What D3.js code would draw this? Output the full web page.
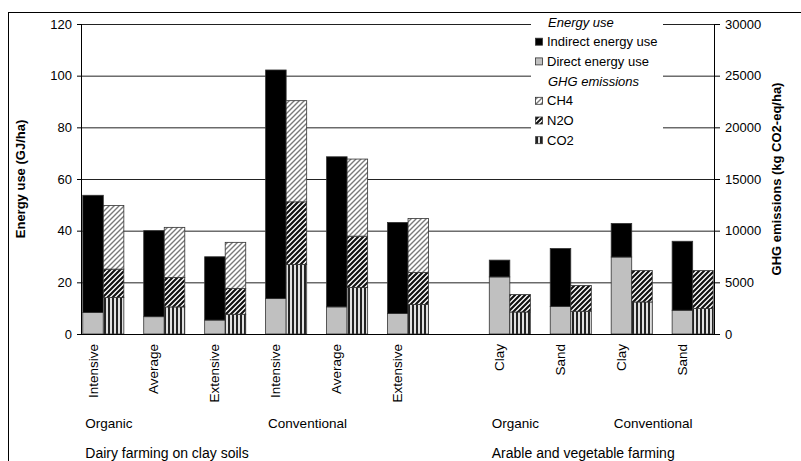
<!DOCTYPE html>
<html>
<head>
<meta charset="utf-8">
<script src="https://cdn.jsdelivr.net/npm/d3@7"></script>
<style>
  body { margin: 0; background: #fff; }
  svg, svg text { font-family: "Liberation Sans", Arial, sans-serif; }
</style>
</head>
<body>
<svg id="chart" width="801" height="461"></svg>
<script>
// bar categories (10 systems, two farm types)
const categories = ["Intensive", "Average", "Extensive", "Intensive", "Average", "Extensive", "Clay", "Sand", "Clay", "Sand"];
const farmType = ["dairy", "dairy", "dairy", "dairy", "dairy", "dairy", "arable", "arable", "arable", "arable"];

// energy use (GJ/ha)
const directEnergy = [8.3, 6.7, 5.4, 13.7, 10.5, 7.9, 22.1, 10.7, 29.8, 9.2];
const indirectEnergy = [45.4, 33.3, 24.5, 88.5, 58.1, 35.3, 6.5, 22.4, 13.0, 26.7];

// GHG emissions (kg CO2-eq/ha)
const co2 = [3525, 2620, 1910, 6725, 4500, 2850, 2130, 2200, 3100, 2460];
const n2o = [2755, 2850, 2490, 6065, 4970, 3100, 1690, 2490, 3040, 3680];
const ch4 = [6150, 4850, 4470, 9790, 7460, 5230, 0, 0, 0, 0];

// axis ticks
const energyTicks = [0, 20, 40, 60, 80, 100, 120];
const ghgTicks = [0, 5000, 10000, 15000, 20000, 25000, 30000];

// labels under the categories
const systemLabels = [
  { text: "Organic", first: 0 },
  { text: "Conventional", first: 3 },
  { text: "Organic", first: 6 },
  { text: "Conventional", first: 8 }
];
const farmLabels = [
  { text: "Dairy farming on clay soils", first: 0 },
  { text: "Arable and vegetable farming", first: 6 }
];

const svg = d3.select("#chart");
const plotLeft = 81, plotRight = 714, plotTop = 24, plotBottom = 334;

// outer frame
svg.append("rect")
  .attr("x", 8.5).attr("y", 12.5)
  .attr("width", 820).attr("height", 480)
  .attr("fill", "none").attr("stroke", "#000");

// patterns for the GHG parts
const defs = svg.append("defs");
defs.append("pattern")
  .attr("id", "ch4").attr("patternUnits", "userSpaceOnUse")
  .attr("width", 5).attr("height", 5)
  .call(p => {
    p.append("rect").attr("width", 5).attr("height", 5).attr("fill", "#fff");
    p.append("path").attr("d", "M-1,6 L6,-1 M-1,1 L1,-1 M4,6 L6,4")
      .attr("stroke", "#7a7a7a").attr("stroke-width", 1.4);
  });
defs.append("pattern")
  .attr("id", "n2o").attr("patternUnits", "userSpaceOnUse")
  .attr("width", 5).attr("height", 5)
  .call(p => {
    p.append("rect").attr("width", 5).attr("height", 5).attr("fill", "#fff");
    p.append("path").attr("d", "M-1,6 L6,-1 M-1,1 L1,-1 M4,6 L6,4")
      .attr("stroke", "#111").attr("stroke-width", 2.2);
  });
defs.append("pattern")
  .attr("id", "co2").attr("patternUnits", "userSpaceOnUse")
  .attr("width", 4).attr("height", 4)
  .call(p => {
    p.append("rect").attr("width", 4).attr("height", 4).attr("fill", "#e0e0e0");
    p.append("rect").attr("x", 0).attr("width", 2).attr("height", 4).attr("fill", "#222");
  });

// scales
const gapSlots = 0.67; // extra space between the two farm types
const slot = i => i + (farmType[i] === "arable" ? gapSlots : 0);
const x = d3.scaleLinear().domain([-0.366, 10.02]).range([plotLeft, plotRight]);
const bw = (x(1) - x(0)) * 0.337;
const yE = d3.scaleLinear().domain([0, 120]).range([plotBottom, plotTop]);
const yG = d3.scaleLinear().domain([0, 30000]).range([plotBottom, plotTop]);

// gridlines
svg.append("g")
  .attr("transform", `translate(${plotLeft},0)`)
  .call(d3.axisLeft(yE).tickValues(energyTicks).tickSize(-(plotRight - plotLeft)).tickFormat(""))
  .call(g => g.select(".domain").remove())
  .call(g => g.selectAll("line").attr("stroke", "#222"));

// legend background hides the gridlines
svg.append("rect")
  .attr("x", 531).attr("y", 14).attr("width", 132).attr("height", 134)
  .attr("fill", "#fff");

// energy bars
const energyData = categories.map((c, i) => ({ i, direct: directEnergy[i], indirect: indirectEnergy[i] }));
const gE = svg.append("g");
gE.selectAll(".direct").data(energyData).enter().append("rect")
  .attr("x", d => x(slot(d.i)) - bw).attr("width", bw)
  .attr("y", d => yE(d.direct)).attr("height", d => yE(0) - yE(d.direct))
  .attr("fill", "#c0c0c0").attr("stroke", "#333").attr("stroke-width", 0.8);
gE.selectAll(".indirect").data(energyData).enter().append("rect")
  .attr("x", d => x(slot(d.i)) - bw).attr("width", bw)
  .attr("y", d => yE(d.direct + d.indirect)).attr("height", d => yE(d.direct) - yE(d.direct + d.indirect))
  .attr("fill", "#000").attr("stroke", "#333").attr("stroke-width", 0.8);

// GHG bars
const ghgData = categories.map((c, i) => ({ i, co2: co2[i], n2o: n2o[i], ch4: ch4[i] }));
const stack = d3.stack().keys(["co2", "n2o", "ch4"])(ghgData);
const gG = svg.append("g");
stack.forEach(layer => {
  gG.selectAll(null).data(layer.filter(d => d[1] > d[0])).enter().append("rect")
    .attr("x", d => x(slot(d.data.i))).attr("width", bw)
    .attr("y", d => yG(d[1])).attr("height", d => yG(d[0]) - yG(d[1]))
    .attr("fill", `url(#${layer.key})`).attr("stroke", "#333").attr("stroke-width", 0.8);
});

// axes
const fontSize = 13;
svg.append("g")
  .attr("transform", `translate(${plotLeft},0)`)
  .call(d3.axisLeft(yE).tickValues(energyTicks).tickSize(4).tickPadding(5))
  .attr("font-family", null).attr("font-size", fontSize)
  .call(g => g.select(".domain").remove())
  .call(g => g.selectAll("text").attr("fill", "#000"));
svg.append("g")
  .attr("transform", `translate(${plotRight},0)`)
  .call(d3.axisRight(yG).tickValues(ghgTicks).tickSize(6).tickPadding(5).tickFormat(d3.format("d")))
  .attr("font-family", null).attr("font-size", fontSize)
  .call(g => g.select(".domain").remove())
  .call(g => g.selectAll("text").attr("fill", "#000"));

svg.append("line").attr("x1", plotLeft + 0.5).attr("x2", plotLeft + 0.5).attr("y1", plotTop).attr("y2", plotBottom).attr("stroke", "#000");
svg.append("line").attr("x1", plotRight + 0.5).attr("x2", plotRight + 0.5).attr("y1", plotTop).attr("y2", plotBottom).attr("stroke", "#000");
svg.append("line").attr("x1", plotLeft).attr("x2", plotRight + 1).attr("y1", plotBottom + 0.5).attr("y2", plotBottom + 0.5).attr("stroke", "#000");

// axis titles
svg.append("text")
  .attr("transform", `translate(25,${(plotTop + plotBottom) / 2}) rotate(-90)`)
  .attr("text-anchor", "middle").attr("font-size", fontSize).attr("font-weight", "bold")
  .text("Energy use (GJ/ha)");
svg.append("text")
  .attr("transform", `translate(781,${(plotTop + plotBottom) / 2}) rotate(-90)`)
  .attr("text-anchor", "middle").attr("font-size", fontSize).attr("font-weight", "bold")
  .text("GHG emissions (kg  CO2-eq/ha)");

// category labels
svg.append("g").selectAll("text").data(categories).enter().append("text")
  .attr("transform", (d, i) => `translate(${x(slot(i)) - bw / 2 + 4.5},344) rotate(-90)`)
  .attr("text-anchor", "end").attr("font-size", 13.5)
  .text(d => d);

svg.append("g").selectAll("text").data(systemLabels).enter().append("text")
  .attr("x", d => x(slot(d.first)) - bw + 2.5).attr("y", 428)
  .attr("font-size", 13.5).text(d => d.text);
svg.append("g").selectAll("text").data(farmLabels).enter().append("text")
  .attr("x", d => x(slot(d.first)) - bw + 2.5).attr("y", 458)
  .attr("font-size", 14).text(d => d.text);

// legend
const legend = svg.append("g").attr("font-size", fontSize);
const legendItems = [
  { label: "Energy use", head: true },
  { label: "Indirect energy use", fill: "#000" },
  { label: "Direct energy use", fill: "#c0c0c0" },
  { label: "GHG emissions", head: true },
  { label: "CH4", fill: "url(#ch4)" },
  { label: "N2O", fill: "url(#n2o)" },
  { label: "CO2", fill: "url(#co2)" }
];
legendItems.forEach((d, k) => {
  const cy = 22 + k * 19.7;
  if (d.head) {
    legend.append("text").attr("x", 548).attr("y", cy + 4.5)
      .attr("font-style", "italic").text(d.label);
  } else {
    legend.append("rect").attr("x", 535.5).attr("y", cy - 3.5).attr("width", 7).attr("height", 7)
      .attr("fill", d.fill).attr("stroke", "#333").attr("stroke-width", 0.8);
    legend.append("text").attr("x", 547).attr("y", cy + 4.5).text(d.label);
  }
});
</script>
</body>
</html>
